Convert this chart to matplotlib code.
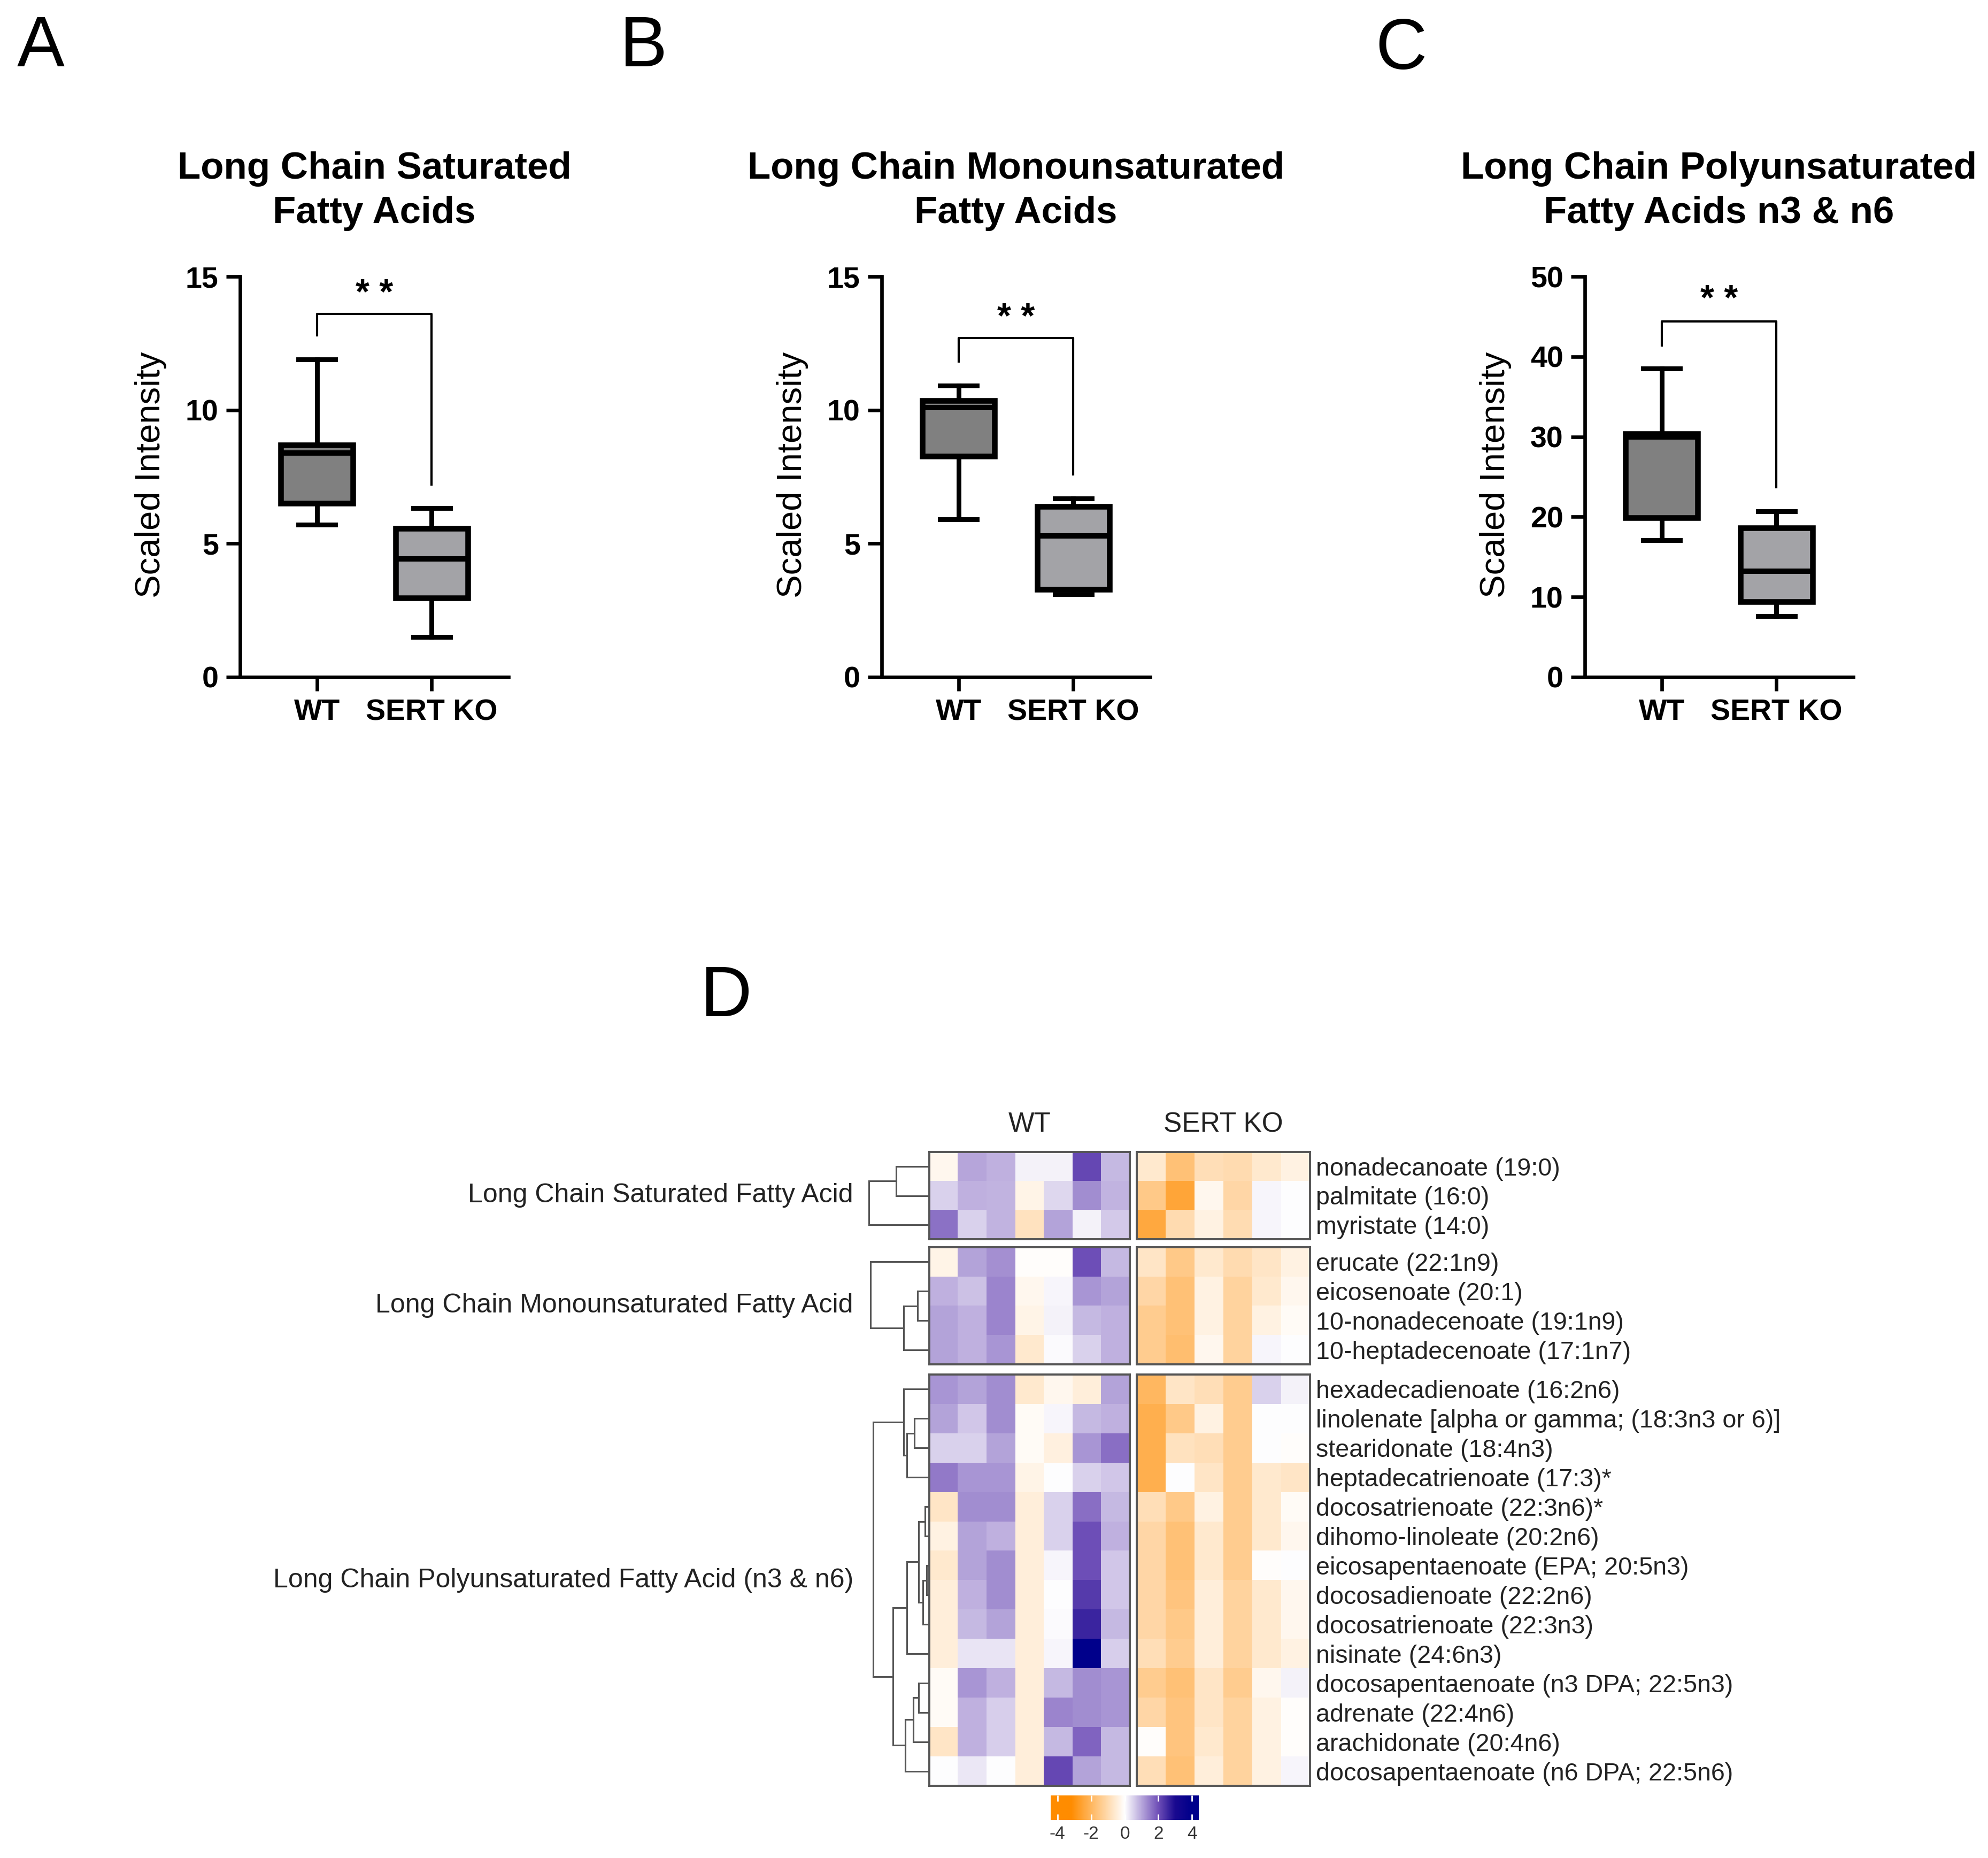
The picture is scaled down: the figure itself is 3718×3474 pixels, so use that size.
import numpy as np
import matplotlib
matplotlib.use('Agg')
import matplotlib.pyplot as plt
from matplotlib.colors import LinearSegmentedColormap
from matplotlib.transforms import ScaledTranslation

plt.rcParams['font.family'] = ['Liberation Sans', 'DejaVu Sans']
plt.rcParams['axes.unicode_minus'] = False

# ---------------- box plot data (panels A-C) ----------------
panel_letters = ['A', 'B', 'C']
panel_titles = [['Long Chain Saturated', 'Fatty Acids'],
                ['Long Chain Monounsaturated', 'Fatty Acids'],
                ['Long Chain Polyunsaturated', 'Fatty Acids n3 & n6']]
groups = ['WT', 'SERT KO']
y_max = [15, 15, 50]
y_ticks = [[0, 5, 10, 15], [0, 5, 10, 15], [0, 10, 20, 30, 40, 50]]

wt_whislo = [5.7, 5.9, 17.1]
wt_q1 = [6.5, 8.28, 19.9]
wt_med = [8.4, 10.09, 30.0]
wt_q3 = [8.7, 10.35, 30.4]
wt_whishi = [11.9, 10.92, 38.5]

ko_whislo = [1.5, 3.11, 7.6]
ko_q1 = [2.96, 3.29, 9.4]
ko_med = [4.42, 5.28, 13.2]
ko_q3 = [5.57, 6.38, 18.6]
ko_whishi = [6.33, 6.69, 20.7]

# significance bracket
bracket_top = [13.6, 12.69, 44.4]
bracket_wt_end = [12.8, 11.82, 41.4]
bracket_ko_end = [7.2, 7.59, 23.7]
star_y = [14.6, 13.7, 47.9]
star_text = '* *'

# ---------------- heatmap data (panel D) ----------------
row_names = ['nonadecanoate (19:0)', 'palmitate (16:0)', 'myristate (14:0)',
             'erucate (22:1n9)', 'eicosenoate (20:1)', '10-nonadecenoate (19:1n9)',
             '10-heptadecenoate (17:1n7)',
             'hexadecadienoate (16:2n6)', 'linolenate [alpha or gamma; (18:3n3 or 6)]',
             'stearidonate (18:4n3)', 'heptadecatrienoate (17:3)*',
             'docosatrienoate (22:3n6)*', 'dihomo-linoleate (20:2n6)',
             'eicosapentaenoate (EPA; 20:5n3)', 'docosadienoate (22:2n6)',
             'docosatrienoate (22:3n3)', 'nisinate (24:6n3)',
             'docosapentaenoate (n3 DPA; 22:5n3)', 'adrenate (22:4n6)',
             'arachidonate (20:4n6)', 'docosapentaenoate (n6 DPA; 22:5n6)']
block_sizes = [3, 4, 14]
block_names = ['Long Chain Saturated Fatty Acid',
               'Long Chain Monounsaturated Fatty Acid',
               'Long Chain Polyunsaturated Fatty Acid (n3 & n6)']
col_groups = ['WT', 'SERT KO']

wt_values = [
    [-0.2, 1.0, 0.9, 0.15, 0.15, 2.1, 0.8],
    [0.5, 0.9, 0.85, -0.3, 0.45, 1.3, 0.85],
    [1.6, 0.5, 0.85, -0.8, 1.05, 0.15, 0.6],
    [-0.3, 1.05, 1.25, -0.05, -0.05, 2.0, 0.8],
    [0.9, 0.7, 1.4, -0.2, 0.1, 1.2, 1.05],
    [1.05, 0.9, 1.4, -0.3, 0.15, 0.8, 0.9],
    [1.05, 0.9, 1.2, -0.6, 0.05, 0.5, 0.9],
    [1.2, 1.05, 1.3, -0.6, -0.2, -0.45, 1.05],
    [1.05, 0.65, 1.3, -0.1, 0.1, 0.8, 0.9],
    [0.5, 0.5, 1.05, -0.1, -0.4, 1.2, 1.65],
    [1.5, 1.2, 1.2, -0.3, 0.0, 0.5, 0.65],
    [-0.7, 1.3, 1.3, -0.45, 0.5, 1.65, 0.8],
    [-0.35, 1.05, 0.9, -0.45, 0.5, 2.0, 0.9],
    [-0.6, 1.05, 1.3, -0.45, 0.1, 2.0, 0.65],
    [-0.45, 0.9, 1.3, -0.45, 0.0, 2.3, 0.65],
    [-0.45, 0.8, 1.05, -0.45, 0.05, 2.6, 0.8],
    [-0.45, 0.3, 0.3, -0.45, 0.1, 4.0, 0.55],
    [-0.1, 1.2, 0.9, -0.45, 0.8, 1.3, 1.2],
    [-0.1, 0.9, 0.55, -0.45, 1.4, 1.3, 1.2],
    [-0.7, 0.9, 0.55, -0.45, 0.8, 1.75, 0.8],
    [0.0, 0.25, 0.0, -0.45, 2.1, 1.05, 0.8],
]
ko_values = [
    [-0.6, -1.7, -0.9, -1.0, -0.6, -0.35],
    [-1.5, -2.5, -0.2, -1.1, 0.1, 0.0],
    [-2.4, -1.0, -0.35, -0.95, 0.1, 0.0],
    [-0.7, -1.5, -0.6, -1.0, -0.7, -0.35],
    [-1.1, -1.7, -0.35, -1.2, -0.6, -0.2],
    [-1.4, -1.7, -0.35, -1.2, -0.35, -0.1],
    [-1.4, -1.8, -0.2, -1.2, 0.1, 0.0],
    [-2.0, -0.7, -0.9, -1.4, 0.5, 0.15],
    [-2.2, -1.5, -0.35, -1.4, 0.0, 0.0],
    [-2.2, -0.8, -0.9, -1.4, 0.0, -0.05],
    [-2.2, 0.0, -0.7, -1.4, -0.6, -0.7],
    [-0.9, -1.5, -0.35, -1.4, -0.6, -0.1],
    [-1.1, -1.7, -0.6, -1.4, -0.6, -0.2],
    [-1.1, -1.7, -0.6, -1.4, -0.05, 0.0],
    [-1.1, -1.6, -0.45, -1.2, -0.6, -0.2],
    [-1.1, -1.5, -0.45, -1.2, -0.6, -0.2],
    [-0.9, -1.4, -0.45, -1.2, -0.6, -0.35],
    [-1.4, -1.7, -0.7, -1.4, -0.2, 0.15],
    [-1.1, -1.6, -0.7, -1.2, -0.35, -0.05],
    [-0.05, -1.6, -0.6, -1.2, -0.35, -0.05],
    [-0.9, -1.7, -0.45, -1.2, -0.35, 0.1],
]

# dendrogram merges per block: (child a, child b, height); clusters numbered n, n+1, ...
dendro_links = [
    [(0, 1, 62), (3, 2, 113)],
    [(1, 2, 22), (4, 3, 48), (0, 5, 110)],
    [(1, 2, 28), (14, 3, 42), (0, 15, 48),
     (4, 5, 8), (6, 7, 5), (18, 8, 12), (17, 19, 20), (20, 9, 42),
     (10, 11, 20), (22, 12, 30), (23, 13, 45),
     (21, 24, 68), (16, 25, 105)],
]

cb_ticks = [-4, -2, 0, 2, 4]

# ---------------- figure ----------------
W, H = 3718, 3474
DPI = 200
fig = plt.figure(figsize=(W / DPI, H / DPI), dpi=DPI)


def px_axes(x0, y0, x1, y1):
    return fig.add_axes([x0 / W, 1 - y1 / H, (x1 - x0) / W, (y1 - y0) / H])


def px_text(x, y, s, **kw):
    return fig.text(x / W, 1 - y / H, s, **kw)


# box plots
axes_left = [449, 1649, 2964]
axes_w = 502
ax_top, ax_bot = 517, 1266
letter_pos = [(76, 90), (1204, 90), (2620, 95)]

for i in range(3):
    ax = px_axes(axes_left[i], ax_top, axes_left[i] + axes_w, ax_bot)
    stats = [dict(med=wt_med[i], q1=wt_q1[i], q3=wt_q3[i], whislo=wt_whislo[i],
                  whishi=wt_whishi[i], fliers=[]),
             dict(med=ko_med[i], q1=ko_q1[i], q3=ko_q3[i], whislo=ko_whislo[i],
                  whishi=ko_whishi[i], fliers=[])]
    bp = ax.bxp(stats, positions=[0, 1], widths=0.63, capwidths=0.32,
                patch_artist=True, showfliers=False,
                boxprops=dict(linewidth=3.8, edgecolor='black'),
                medianprops=dict(color='black', linewidth=3.6),
                whiskerprops=dict(color='black', linewidth=3.2),
                capprops=dict(color='black', linewidth=3.2))
    for box, fc in zip(bp['boxes'], ['#808080', '#a3a3a7']):
        box.set_facecolor(fc)

    ax.plot([0, 0, 1, 1], [bracket_wt_end[i], bracket_top[i], bracket_top[i], bracket_ko_end[i]],
            color='black', lw=1.5)
    off = ax.transData + ScaledTranslation(0, -5 / 72, fig.dpi_scale_trans)
    ax.text(0.5, star_y[i], star_text, transform=off, ha='center', va='center',
            fontsize=24, fontweight='bold')

    ax.set_xlim(-0.67, 1.67)
    ax.set_ylim(0, y_max[i])
    ax.set_yticks(y_ticks[i])
    ax.set_xticks([0, 1])
    ax.set_xticklabels(groups)
    for sp in ['top', 'right']:
        ax.spines[sp].set_visible(False)
    for sp in ['left', 'bottom']:
        ax.spines[sp].set_linewidth(2.4)
    ax.tick_params(length=9.5, width=2.4, labelsize=20, pad=5)
    for lab in ax.get_xticklabels() + ax.get_yticklabels():
        lab.set_fontweight('bold')

    cx = axes_left[i] + axes_w / 2
    px_text(cx, 334, panel_titles[i][0], ha='center', va='baseline',
            fontsize=25.5, fontweight='bold')
    px_text(cx, 417, panel_titles[i][1], ha='center', va='baseline',
            fontsize=25.5, fontweight='bold')
    px_text(axes_left[i] - 167, (ax_top + ax_bot) / 2 - 4, 'Scaled Intensity',
            rotation=90, ha='center', va='center', fontsize=23.5)
    px_text(letter_pos[i][0], letter_pos[i][1], panel_letters[i],
            ha='center', va='center', fontsize=48)

px_text(1358, 1865, 'D', ha='center', va='center', fontsize=48)

# heatmap
cmap = LinearSegmentedColormap.from_list(
    'orange_purple',
    [(0.0, '#ff8c00'), (0.1, '#ff8c00'), (0.5, '#ffffff'),
     (0.75, '#7050b8'), (0.875, '#1a0a90'), (1.0, '#00008b')])

wt_arr = np.array(wt_values)
ko_arr = np.array(ko_values)
col_x = [(1738, 2113), (2126, 2450)]
block_y = [(2154, 2317), (2332, 2551), (2570, 3339)]
frame_col = '#555555'

start = 0
for b, n in enumerate(block_sizes):
    y0, y1 = block_y[b]
    rows = slice(start, start + n)
    for c, arr in enumerate([wt_arr, ko_arr]):
        ax = px_axes(col_x[c][0], y0, col_x[c][1], y1)
        ax.imshow(arr[rows], cmap=cmap, vmin=-4, vmax=4, aspect='auto',
                  interpolation='nearest')
        ax.set_xticks([])
        for sp in ax.spines.values():
            sp.set_color(frame_col)
            sp.set_linewidth(1.4)
        if c == 1:
            ax.yaxis.tick_right()
            ax.set_yticks(range(n))
            ax.set_yticklabels(row_names[rows], fontsize=16.8, color='#222222')
            ax.tick_params(axis='y', length=0, pad=4)
        else:
            ax.set_yticks([])

    # dendrogram
    dax = px_axes(1738 - 120, y0, 1738, y1)
    pos = {k: k + 0.5 for k in range(n)}
    hgt = {k: 0.0 for k in range(n)}
    for k, (a, bb, h) in enumerate(dendro_links[b]):
        for ch in (a, bb):
            dax.plot([hgt[ch], h], [pos[ch], pos[ch]], color='#555555', lw=1.1)
        dax.plot([h, h], [pos[a], pos[bb]], color='#555555', lw=1.1)
        pos[n + k] = (pos[a] + pos[bb]) / 2
        hgt[n + k] = h
    dax.set_xlim(120, 0)
    dax.set_ylim(n, 0)
    dax.axis('off')

    px_text(1596, (y0 + y1) / 2, block_names[b], ha='right', va='center',
            fontsize=18, color='#222222')
    start += n

for c, name in enumerate(col_groups):
    px_text((col_x[c][0] + col_x[c][1]) / 2, 2103, name, ha='center', va='center',
            fontsize=18.5, color='#222222')

# colour key
cax = px_axes(1965, 3357, 2242, 3403)
grad = np.linspace(-4.4, 4.4, 400).reshape(1, -1)
cax.imshow(grad, cmap=cmap, vmin=-4, vmax=4, aspect='auto', extent=[-4.4, 4.4, 0, 1])
cax.set_yticks([])
cax.set_xticks(cb_ticks)
cax.set_xticklabels([str(t) for t in cb_ticks])
cax.tick_params(axis='x', direction='in', length=4, width=1, color='white',
                top=True, bottom=True, labelsize=12, labelcolor='#333333', pad=4)
for sp in cax.spines.values():
    sp.set_visible(False)

fig.savefig('out.png', dpi=DPI, facecolor='white')
